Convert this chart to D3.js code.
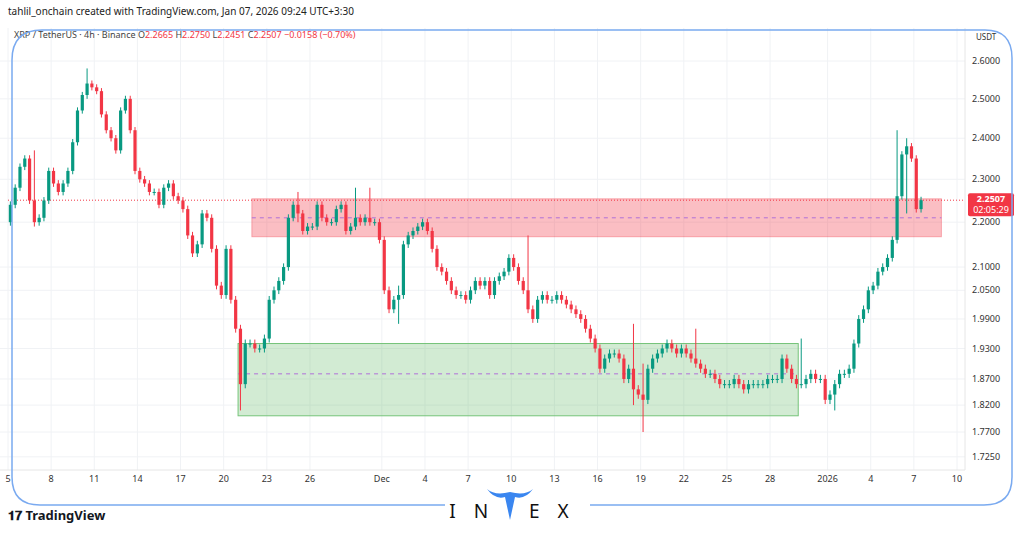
<!DOCTYPE html>
<html><head><meta charset="utf-8">
<script src="https://cdn.jsdelivr.net/npm/d3@7"></script>
<style>body{margin:0;background:#fff;font-family:"Noto Sans",Roboto,sans-serif}</style>
</head><body><svg id="c" width="1024" height="538"></svg>
<script>
// 8h candles starting Nov 5, 2025 00:00 — closes
const closes = [
2.24,2.28,2.33, 2.35,2.25,2.20, 2.21,2.25,2.32, 2.29,2.27,2.29, 2.32,2.39,2.47,
2.51,2.54,2.53, 2.52,2.46,2.42, 2.40,2.37,2.47, 2.50,2.42,2.32, 2.30,2.29,2.27,
2.27,2.24,2.28, 2.29,2.26,2.25, 2.23,2.17,2.13, 2.15,2.22,2.21, 2.14,2.06,2.04,
2.14,2.03,1.97, 1.86,1.94,1.94, 1.93,1.93,1.95, 2.03,2.05,2.07, 2.10,2.21,2.24,
2.22,2.18,2.19, 2.19,2.24,2.21, 2.20,2.20,2.23, 2.24,2.18,2.19, 2.21,2.20,2.21,
2.20,2.20,2.16, 2.05,2.01,2.03, 2.04,2.15,2.17, 2.18,2.19,2.20, 2.18,2.14,2.10,
2.09,2.07,2.05, 2.04,2.04,2.03, 2.05,2.07,2.06, 2.07,2.04,2.07, 2.08,2.09,2.12,
2.10,2.07,2.05, 2.01,1.99,2.03, 2.04,2.03,2.03, 2.04,2.03,2.02, 2.01,2.00,1.99,
1.97,1.95,1.93, 1.89,1.91,1.92, 1.92,1.91,1.87, 1.89,1.85,1.84, 1.83,1.89,1.91,
1.92,1.93,1.94, 1.93,1.92,1.93, 1.92,1.91,1.90, 1.89,1.88,1.88, 1.87,1.86,1.86,
1.86,1.87,1.86, 1.85,1.86,1.86, 1.86,1.86,1.87, 1.87,1.87,1.91, 1.89,1.87,1.86,
1.86,1.87,1.88, 1.87,1.87,1.83, 1.84,1.86,1.88, 1.88,1.89,1.94, 1.99,2.01,2.05,
2.06,2.09,2.10, 2.12,2.16,2.26, 2.36,2.38,2.35, 2.23,2.2507];
const firstOpen = 2.20;
// notable wick extremes: [candle index, high, low]
const spikes = [[16,2.58,2.50],[5,2.37,2.19],[48,1.94,1.81],[60,2.27,2.20],[72,2.28,2.19],
 [75,2.28,2.20],[81,2.06,1.98],[108,2.17,2.09],[130,1.98,1.82],[132,1.90,1.77],
 [143,1.97,1.90],[165,1.95,1.86],[172,1.86,1.81],[185,2.42,2.33],[187,2.40,2.22]];
const defaultWick = 0.008;
const yTicks = [2.6,2.5,2.4,2.3,2.2,2.1,2.05,1.99,1.93,1.87,1.82,1.77,1.725];
const xTickLabels = [["2025-11-05","5"],["2025-11-08","8"],["2025-11-11","11"],["2025-11-14","14"],["2025-11-17","17"],["2025-11-20","20"],["2025-11-23","23"],["2025-11-26","26"],["2025-12-01","Dec"],["2025-12-04","4"],["2025-12-07","7"],["2025-12-10","10"],["2025-12-13","13"],["2025-12-16","16"],["2025-12-19","19"],["2025-12-22","22"],["2025-12-25","25"],["2025-12-28","28"],["2026-01-01","2026"],["2026-01-04","4"],["2026-01-07","7"],["2026-01-10","10"]];
const redZone = {t0:"2025-11-21T23:00",t1:"2026-01-08T22:00",top:2.254,bot:2.167,mid:2.21};
const greenZone = {t0:"2025-11-21T00:00",t1:"2025-12-29T23:00",top:1.94,bot:1.80,mid:1.88};

const svg = d3.select("#c");
const t0 = new Date("2025-11-05T00:00");
const x = d3.scaleTime().domain([t0,new Date("2026-01-10T00:00")]).range([8,957]);
const y = d3.scaleLog().domain([2.6,1.77]).range([61,432]);
const plotR = 965;
const candles = closes.map((c,i)=>{
  const o = i===0?firstOpen:closes[i-1];
  let h=Math.max(o,c)+defaultWick, l=Math.min(o,c)-defaultWick;
  const s=spikes.find(d=>d[0]===i); if(s){h=Math.max(h,s[1]);l=Math.min(l,s[2]);}
  return {t:new Date(t0.getTime()+i*8*3600e3+4*3600e3),o,c,h,l};
});
const g=svg.append("g");
xTickLabels.forEach(([d,l])=>{const xx=x(new Date(d+"T00:00"));
  g.append("line").attr("x1",xx).attr("x2",xx).attr("y1",28).attr("y2",470).attr("stroke","#f0f2f5");
  svg.append("text").attr("x",xx).attr("y",482).attr("text-anchor","middle").attr("font-size",9).attr("fill","#333").text(l);});
yTicks.forEach(p=>{g.append("line").attr("x1",0).attr("x2",plotR).attr("y1",y(p)).attr("y2",y(p)).attr("stroke","#f0f2f5");
  svg.append("text").attr("x",972).attr("y",y(p)+3).attr("font-size",9).attr("fill","#333").text(p.toFixed(4));});
svg.append("line").attr("x1",plotR).attr("x2",plotR).attr("y1",28).attr("y2",470).attr("stroke","#e6e6e6");
svg.append("line").attr("x1",0).attr("x2",plotR).attr("y1",470).attr("y2",470).attr("stroke","#e6e6e6");
[[redZone,"rgba(242,54,69,0.32)","rgba(242,54,69,0.35)"],[greenZone,"rgba(76,175,80,0.25)","#76c47a"]].forEach(([z,f,s])=>{
  const x0=x(new Date(z.t0)),x1=x(new Date(z.t1));
  svg.append("rect").attr("x",x0).attr("width",x1-x0).attr("y",y(z.top)).attr("height",y(z.bot)-y(z.top)).attr("fill",f).attr("stroke",s);
  svg.append("line").attr("x1",x0).attr("x2",x1).attr("y1",y(z.mid)).attr("y2",y(z.mid)).attr("stroke","#b070d8").attr("stroke-dasharray","4,4");
});
const last=closes[closes.length-1];
svg.append("line").attr("x1",8).attr("x2",plotR).attr("y1",y(last)).attr("y2",y(last)).attr("stroke","#f23645").attr("stroke-dasharray","1,2");
const cg=svg.append("g");
candles.forEach(d=>{const col=d.c>=d.o?"#089981":"#f23645";const xx=x(d.t);
  cg.append("line").attr("x1",xx).attr("x2",xx).attr("y1",y(d.h)).attr("y2",y(d.l)).attr("stroke",col).attr("stroke-width",1);
  const yt=y(Math.max(d.o,d.c)),yb=y(Math.min(d.o,d.c));
  cg.append("rect").attr("x",xx-1.6).attr("width",3.2).attr("y",yt).attr("height",Math.max(1,yb-yt)).attr("fill",col);});
svg.append("rect").attr("x",968).attr("y",y(last)-7).attr("width",46).attr("height",23).attr("rx",2).attr("fill","#f23645");
svg.append("text").attr("x",991).attr("y",y(last)+2).attr("text-anchor","middle").attr("font-size",9).attr("font-weight","bold").attr("fill","#fff").text("2.2507");
svg.append("text").attr("x",991).attr("y",y(last)+13).attr("text-anchor","middle").attr("font-size",9).attr("fill","#fff").text("02:05:29");
svg.append("text").attr("x",976).attr("y",40).attr("font-size",8).attr("fill","#333").text("USDT");
svg.append("text").attr("x",8).attr("y",15).attr("font-size",10).attr("fill","#222").text("tahlil_onchain created with TradingView.com, Jan 07, 2026 09:24 UTC+3:30");
const lg=svg.append("text").attr("x",14).attr("y",38).attr("font-size",9).attr("fill","#444");
lg.append("tspan").text("XRP / TetherUS · 4h · Binance  O");
lg.append("tspan").attr("fill","#f23645").text("2.2665");
lg.append("tspan").text("  H");lg.append("tspan").attr("fill","#f23645").text("2.2750");
lg.append("tspan").text("  L");lg.append("tspan").attr("fill","#f23645").text("2.2451");
lg.append("tspan").text("  C");lg.append("tspan").attr("fill","#f23645").text("2.2507  −0.0158 (−0.70%)");
svg.append("path").attr("d","M445,505 H40 Q12,505 12,477 V60 Q12,30 42,30 H985 Q1012,30 1012,58 V477 Q1012,505 984,505 H590").attr("fill","none").attr("stroke","#7aaaf0").attr("stroke-width",1.5);
svg.append("text").attr("x",8).attr("y",520).attr("font-size",13).attr("font-weight","bold").attr("fill","#131722").text("𝟏𝟕 TradingView");
svg.append("path").attr("d","M487,489 Q495,500 505,497 L510,520 L515,497 Q525,500 533,489 Q525,496 510,492 Q495,496 487,489Z").attr("fill","#3a86f0");
svg.append("text").attr("x",518).attr("y",518).attr("text-anchor","middle").attr("font-size",19).attr("letter-spacing",18).attr("fill","#111").text("IN EX");
</script></body></html>
